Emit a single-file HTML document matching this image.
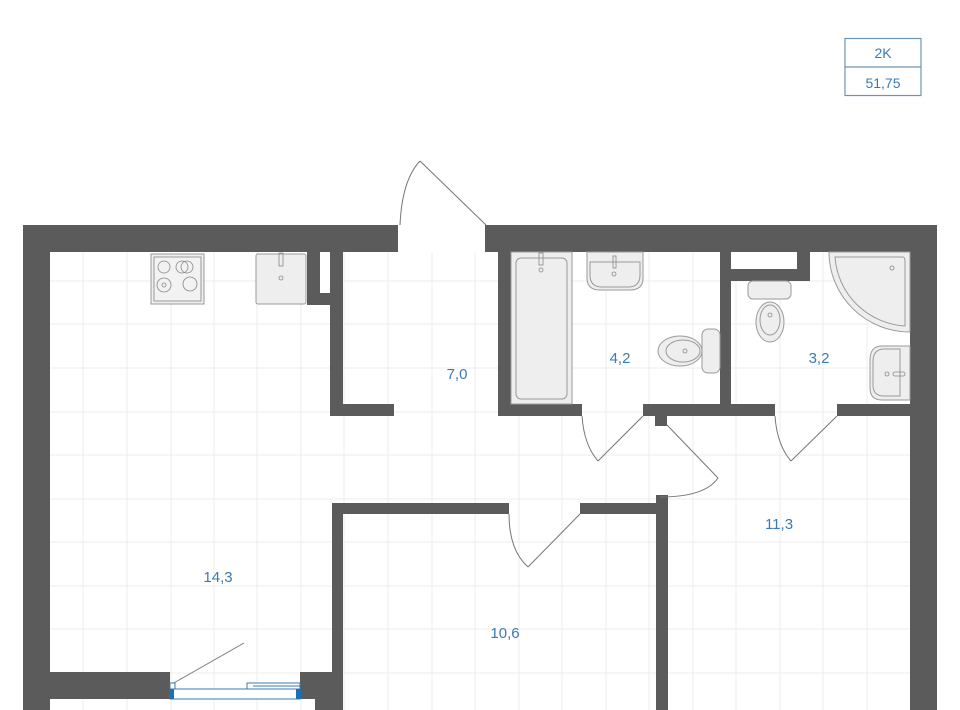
<!DOCTYPE html>
<html><head><meta charset="utf-8"><style>
html,body{margin:0;padding:0;background:#fff;}
svg{display:block}
text{font-family:"Liberation Sans",sans-serif;}
</style></head><body>
<svg width="960" height="710" viewBox="0 0 960 710" xmlns="http://www.w3.org/2000/svg">
<rect width="960" height="710" fill="#fff"/>
<!-- grid -->
<g stroke="#ececec" stroke-width="1">
<line x1="83" y1="252" x2="83" y2="710"/><line x1="127" y1="252" x2="127" y2="710"/><line x1="171" y1="252" x2="171" y2="710"/><line x1="214" y1="252" x2="214" y2="710"/><line x1="257" y1="252" x2="257" y2="710"/><line x1="301" y1="252" x2="301" y2="710"/><line x1="344" y1="252" x2="344" y2="710"/><line x1="388" y1="252" x2="388" y2="710"/><line x1="432" y1="252" x2="432" y2="710"/><line x1="475" y1="252" x2="475" y2="710"/><line x1="519" y1="252" x2="519" y2="710"/><line x1="562" y1="252" x2="562" y2="710"/><line x1="606" y1="252" x2="606" y2="710"/><line x1="649" y1="252" x2="649" y2="710"/><line x1="693" y1="252" x2="693" y2="710"/><line x1="736" y1="252" x2="736" y2="710"/><line x1="780" y1="252" x2="780" y2="710"/><line x1="823" y1="252" x2="823" y2="710"/><line x1="867" y1="252" x2="867" y2="710"/>
<line x1="50" y1="281" x2="910" y2="281"/><line x1="50" y1="324" x2="910" y2="324"/><line x1="50" y1="368" x2="910" y2="368"/><line x1="50" y1="412" x2="910" y2="412"/><line x1="50" y1="455" x2="910" y2="455"/><line x1="50" y1="499" x2="910" y2="499"/><line x1="50" y1="542" x2="910" y2="542"/><line x1="50" y1="586" x2="910" y2="586"/><line x1="50" y1="629" x2="910" y2="629"/><line x1="50" y1="673" x2="910" y2="673"/>
</g>
<!-- walls -->
<g fill="#5b5b5b">
<rect x="23" y="225" width="375" height="27"/>
<rect x="485" y="225" width="452" height="27"/>
<rect x="23" y="225" width="27" height="485"/>
<rect x="910" y="225" width="27" height="485"/>
<rect x="307" y="252" width="36" height="53"/>
<rect x="330" y="252" width="13" height="164"/>
<rect x="330" y="404" width="64" height="12"/>
<rect x="498" y="252" width="13" height="164"/>
<rect x="498" y="404" width="84" height="12"/>
<rect x="643" y="404" width="132" height="12"/>
<rect x="837" y="404" width="73" height="12"/>
<rect x="720" y="252" width="11" height="152"/>
<rect x="731" y="269" width="79" height="12"/>
<rect x="797" y="252" width="13" height="29"/>
<rect x="655" y="404" width="12" height="22"/>
<rect x="656" y="495" width="12" height="215"/>
<rect x="332" y="503" width="177" height="11"/>
<rect x="580" y="503" width="88" height="11"/>
<rect x="332" y="503" width="11" height="207"/>
<rect x="50" y="672" width="120" height="27"/>
<rect x="300" y="672" width="43" height="27"/>
<rect x="315" y="699" width="28" height="11"/>
</g>
<rect x="320" y="252" width="10" height="41" fill="#fff"/>
<rect x="731" y="252" width="66" height="17" fill="#fff"/>
<!-- doors -->
<g fill="none" stroke="#777" stroke-width="1">
<line x1="420" y1="161" x2="486" y2="225"/><path d="M400 225 Q402 180 420 161"/>
<line x1="643" y1="416" x2="598" y2="461"/><path d="M582 416 Q584 445 598 461"/>
<line x1="837" y1="416" x2="791" y2="461"/><path d="M775 416 Q777 445 791 461"/>
<line x1="667" y1="425" x2="718" y2="478"/><path d="M718 478 Q705 497 660 497"/>
<line x1="580" y1="514" x2="528" y2="567"/><path d="M509 514 Q509 550 528 567"/>
<line x1="172" y1="684" x2="244" y2="643"/>
</g>
<!-- window -->
<g fill="#fff" stroke="#3b78b0" stroke-width="1">
<rect x="170" y="689" width="130" height="10"/>
<rect x="170" y="683" width="5" height="6"/>
<rect x="247" y="683" width="53" height="6"/>
<line x1="253" y1="686" x2="300" y2="686"/>
</g>
<rect x="169" y="689" width="5" height="10" fill="#1e6fb5"/>
<rect x="296" y="689" width="5" height="10" fill="#1e6fb5"/>
<!-- fixtures -->
<g fill="#eeeeee" stroke="#9a9a9a" stroke-width="1">
<rect x="151" y="254" width="53" height="50"/>
<rect x="154" y="257" width="47" height="44" fill="#f2f2f2"/>
<rect x="256" y="254" width="50" height="50" rx="2"/>
<rect x="511" y="252" width="61" height="152"/>
<rect x="516" y="258" width="51" height="141" rx="5"/>
<path d="M587 252 L643 252 L643 278 Q643 290 630 290 L600 290 Q587 290 587 278 Z"/>
<path d="M590 262 L640 262 L640 275 Q640 287 628 287 L602 287 Q590 287 590 275 Z"/>
<rect x="702" y="329" width="18" height="44" rx="6"/>
<ellipse cx="680" cy="351" rx="22" ry="15"/>
<ellipse cx="683" cy="351" rx="17" ry="11"/>
<rect x="748" y="281" width="43" height="18" rx="5"/>
<ellipse cx="770" cy="322" rx="14" ry="20"/>
<ellipse cx="770" cy="320" rx="10" ry="15"/>
<path d="M829 252 L910 252 L910 332 A81 80 0 0 1 829 252 Z"/>
<path d="M835 257 L903 257 Q905 257 905 262 L905 326 A75 74 0 0 1 835 257 Z"/>
<path d="M910 346 L882 346 Q870 346 870 360 L870 388 Q870 400 882 400 L910 400 Z"/>
<path d="M900 349 L884 349 Q873 349 873 362 L873 385 Q873 396 884 396 L900 396 Z"/>
</g>
<g fill="none" stroke="#888" stroke-width="0.8">
<circle cx="164" cy="267" r="6"/><circle cx="182" cy="267" r="6"/><circle cx="187" cy="267" r="6"/>
<circle cx="164" cy="285" r="7"/><circle cx="164" cy="285" r="2"/><circle cx="190" cy="284" r="7"/>
<circle cx="281" cy="278" r="2"/><rect x="279" y="253" width="4" height="13"/>
<circle cx="541" cy="270" r="2"/><rect x="539" y="253" width="4" height="12"/>
<circle cx="614" cy="274" r="2"/><rect x="613" y="256" width="3" height="12"/>
<circle cx="685" cy="351" r="2"/><circle cx="770" cy="315" r="2"/><circle cx="892" cy="268" r="2"/>
<circle cx="887" cy="374" r="2"/><rect x="893" y="372" width="12" height="4" rx="2"/>
</g>
<!-- labels -->
<g fill="#3a7ab2" font-size="15" text-anchor="middle">
<text x="457" y="379">7,0</text>
<text x="620" y="363">4,2</text>
<text x="819" y="363">3,2</text>
<text x="779" y="529">11,3</text>
<text x="218" y="582">14,3</text>
<text x="505" y="638">10,6</text>
</g>
<!-- info box -->
<rect x="845" y="38.5" width="76" height="57" fill="none" stroke="#6e95b3" stroke-width="1.2"/>
<line x1="845" y1="67" x2="921" y2="67" stroke="#6e95b3" stroke-width="1.2"/>
<g fill="#3a7ab2" font-size="14" text-anchor="middle">
<text x="883" y="58">2K</text>
<text x="883" y="88">51,75</text>
</g>
</svg>
</body></html>
